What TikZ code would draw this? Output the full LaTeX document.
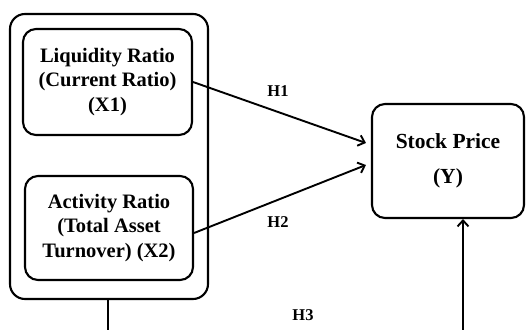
\documentclass[tikz,border=0pt]{standalone}
\usepackage{fontspec}
\setmainfont{Liberation Serif}
\usetikzlibrary{arrows.meta,calc}
\tikzset{
  box/.style={draw, line width=2.1pt, rounded corners=13pt, align=center,
              font=\bfseries\fontsize{20.5}{24.5}\selectfont, inner sep=0pt},
  link/.style={line width=1.9pt, -{Straight Barb[length=6pt,width=11pt,line width=1.9pt]}},
  hlabel/.style={font=\bfseries\fontsize{16.5}{19}\selectfont, inner sep=0pt}
}
\begin{document}
\begin{tikzpicture}[x=1pt,y=-1pt]
\useasboundingbox (0,0) rectangle (526,329);
% grouping frame around the two ratios
\node[box, rounded corners=15pt, minimum width=198pt, minimum height=285pt] (outer) at (109,156.5) {};
% independent variables
\node[box, minimum width=169pt, minimum height=106pt] (b1) at (107.5,82)
  {Liquidity Ratio\\(Current Ratio)\\(X1)};
\node[box, minimum width=168pt, minimum height=104pt] (b2) at (109,228)
  {Activity Ratio\\(Total Asset\\Turnover) (X2)};
% dependent variable
\node[box, minimum width=152pt, minimum height=114pt,
      font=\bfseries\fontsize{21.5}{35}\selectfont] (sp) at (448,161)
  {Stock Price\\(Y)};
% arrow targets and free ends
\coordinate (t1) at ([xshift=-5pt,yshift=18pt]sp.west);
\coordinate (t2) at ([xshift=-5pt,yshift=-4pt]sp.west);
\coordinate (s2) at ([yshift=-5pt]b2.east);
\coordinate (d1) at (108,330);
\coordinate (d2) at (463,330);
% hypotheses
\draw[link] (b1.east) -- (t1);
\draw[link] (s2) -- (t2);
\draw[line width=2.1pt] (outer.south -| d1) -- (d1);
\draw[link] (d2) -- (d2 |- sp.south);
\node[hlabel] (h1) at (278,91) {H1};
\node[hlabel] (h2) at (278,222) {H2};
\node[hlabel] (h3) at (303,315) {H3};
\end{tikzpicture}
\end{document}
